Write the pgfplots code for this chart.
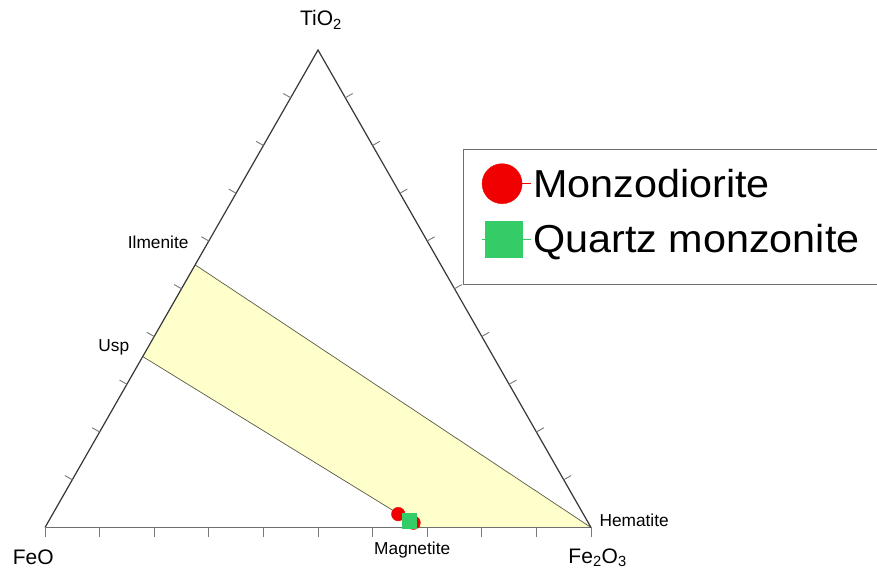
\documentclass[border=0pt]{standalone}
\usepackage{fontspec}
\setmainfont{Liberation Sans}
\newfontfamily\legfont[FakeStretch=1.06]{Liberation Sans}
\usepackage{pgfplots}
\usepackage{pgfplotstable}
\pgfplotsset{compat=1.18}
\definecolor{bandfill}{RGB}{255,255,204}
\definecolor{mred}{RGB}{240,0,0}
\definecolor{mgreen}{RGB}{51,204,102}
\definecolor{edgec}{RGB}{55,55,55}
\definecolor{bandedge}{RGB}{90,90,70}
\definecolor{basec}{RGB}{110,110,110}
\definecolor{tickc}{RGB}{120,120,120}

% ternary data: wt% FeO, Fe2O3, TiO2
\pgfplotstableread{
FeO Fe2O3 TiO2
33.9 63.3 2.8
32.0 67.0 1.0
}\monzo
\pgfplotstableread{
FeO Fe2O3 TiO2
32.6 66.0 1.4
}\qmonz
\pgfplotstableread{
FeO Fe2O3 TiO2
45.0 0.0 55.0
0.0 100.0 0.0
31.2 68.8 0.0
64.2 0.0 35.8
}\band
\pgfplotstableread{
FeO Fe2O3 TiO2
45.0 0.0 55.0
0.0 100.0 0.0
}\ilmhem
\pgfplotstableread{
FeO Fe2O3 TiO2
64.2 0.0 35.8
31.2 68.8 0.0
}\uspmag
\pgfplotstableread{
FeO Fe2O3 TiO2
100 0 0
0 100 0
}\basejoin
\pgfplotstableread{
FeO Fe2O3 TiO2
0 100 0
0 0 100
100 0 0
}\sides

\pgfplotsset{/pgfplots/table/tern/.style={x expr=\thisrow{Fe2O3}+0.5*\thisrow{TiO2}, y expr=\thisrow{TiO2}}}

\begin{document}
\begin{tikzpicture}
\begin{axis}[
  x=5.46pt, y=4.775pt,
  xmin=-8.242, xmax=152.38, ymin=-8.482, ymax=110.47,
  hide axis, clip=false,
  legend cell align=left,
  legend style={at={(axis cs:79.98,76.27)}, anchor=north west, draw=none, fill=none,
    inner sep=0pt, row sep=17pt, column sep=0pt,
    font=\legfont\fontsize{39}{44}\selectfont},
]
\coordinate (bbSW) at (axis cs:-8.242,-8.482);
\coordinate (bbNE) at (axis cs:152.38,110.47);

% compositional band
\addplot[fill=bandfill, draw=none, forget plot] table[tern] {\band} -- cycle;
\addplot[bandedge, line width=0.7pt, forget plot] table[tern] {\ilmhem};
\addplot[bandedge, line width=0.7pt, forget plot] table[tern] {\uspmag};

% triangle
\addplot[basec, line width=1.8pt, forget plot] table[tern] {\basejoin};
\addplot[edgec, line width=1.2pt, forget plot] table[tern] {\sides};

% ticks
\pgfplotsinvokeforeach{0,10,...,100}{
  \draw[tickc, line width=0.9pt] (axis cs:#1,0) -- ++(0pt,-10pt);
}
\pgfplotsinvokeforeach{10,20,...,90}{
  \draw[tickc, line width=0.9pt] (axis cs:{#1/2},#1) -- ++(-7.4pt,4.2pt);
  \draw[tickc, line width=0.9pt] (axis cs:{100-#1/2},#1) -- ++(7.4pt,4.2pt);
}

% samples
\addplot[only marks, mark=*, mark size=6.8pt, color=mred,
  legend image code/.code={\fill[mred] (20pt,0pt) circle (20pt); \path (0pt,0pt) -- (49pt,0pt);}]
  table[tern] {\monzo};
\addlegendentry{Monzodiorite}
\addplot[only marks, mark=square*, mark size=7.3pt, color=mgreen,
  legend image code/.code={\fill[mgreen] (3.3pt,-18.3pt) rectangle (40pt,18.3pt); \path (0pt,0pt) -- (49pt,0pt);}]
  table[tern] {\qmonz};
\addlegendentry{Quartz monzonite}

% legend frame
\draw[gray!85!black, line width=1pt] (axis cs:76.56,79.06) rectangle (axis cs:152.9,50.99);

% labels
\node[anchor=base west, inner sep=0pt, font=\fontsize{21}{24}\selectfont] at (axis cs:46.70,105.03) {TiO\textsubscript{2}};
\node[anchor=base west, inner sep=0pt, font=\fontsize{21}{24}\selectfont] at (axis cs:-5.92,-7.85) {FeO};
\node[anchor=base west, inner sep=0pt, font=\fontsize{21}{24}\selectfont] at (axis cs:95.84,-7.50) {Fe\textsubscript{2}O\textsubscript{3}};
\node[anchor=base west, inner sep=0pt, font=\fontsize{17.3}{20}\selectfont] at (axis cs:101.52,0.17) {Hematite};
\node[anchor=base west, inner sep=0pt, font=\fontsize{17.3}{20}\selectfont] at (axis cs:15.15,58.47) {Ilmenite};
\node[anchor=base west, inner sep=0pt, font=\fontsize{17.3}{20}\selectfont] at (axis cs:9.76,36.82) {Usp};
\node[anchor=base west, inner sep=0pt, font=\fontsize{17.3}{20}\selectfont] at (axis cs:60.26,-5.76) {Magnetite};
\end{axis}
\pgfresetboundingbox
\path[use as bounding box] (bbSW) rectangle (bbNE);
\end{tikzpicture}
\end{document}
